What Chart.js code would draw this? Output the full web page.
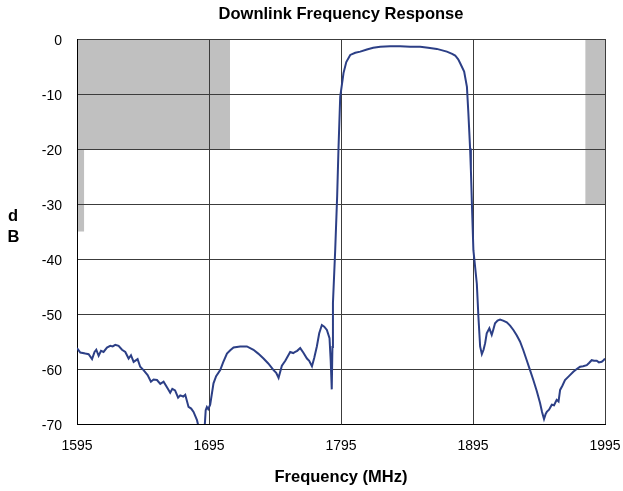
<!DOCTYPE html>
<html><head><meta charset="utf-8">
<script src="https://cdn.jsdelivr.net/npm/chart.js@4.4.1/dist/chart.umd.min.js"></script>
<style>html,body{margin:0;padding:0;background:#fff;} #wrap{width:623px;height:491px;position:relative;}</style>
</head><body><div id="wrap"><canvas id="c"></canvas></div>
<script>
const chartTitle = 'Downlink Frequency Response';
const xAxisTitle = 'Frequency (MHz)';
const yAxisLetters = ['d', 'B'];
const xTicks = [1595, 1695, 1795, 1895, 1995];
const yTicks = [0, -10, -20, -30, -40, -50, -60, -70];

const freqMHz = [
  1595.0,1597.5,1601.3,1603.8,1606.4,1608.3,1609.6,1611.4,1613.2,1615.1,
  1617.7,1620.2,1622.0,1624.0,1626.5,1629.1,1631.6,1634.1,1635.9,1637.9,
  1640.9,1642.9,1645.4,1648.5,1651.0,1653.0,1655.6,1658.1,1660.6,1663.6,
  1665.6,1667.2,1669.3,1671.6,1673.2,1675.5,1677.0,1679.5,1681.5,1683.3,
  1685.9,1687.2,1688.4,1690.6,1691.8,1692.5,1693.4,1694.4,1695.9,1698.4,
  1700.4,1703.5,1705.7,1708.6,1711.1,1713.6,1718.6,1723.7,1728.7,1732.3,
  1736.3,1739.9,1743.9,1745.9,1747.7,1750.2,1752.8,1756.5,1758.8,1760.3,
  1761.8,1764.1,1766.4,1769.2,1770.9,1773.0,1774.7,1776.7,1778.5,1780.5,
  1782.3,1784.3,1786.3,1787.2,1788.0,1788.5,1788.9,1790.6,1792.1,1793.1,
  1794.4,1796.9,1799.0,1802.0,1805.8,1809.6,1814.6,1819.4,1824.7,1832.2,
  1839.8,1847.4,1855.0,1861.0,1867.6,1875.2,1879.2,1881.5,1883.8,1885.3,
  1888.3,1890.4,1891.5,1892.8,1893.4,1894.3,1895.3,1897.9,1899.1,1900.4,
  1901.7,1903.0,1904.2,1905.4,1907.4,1909.2,1910.2,1911.7,1913.6,1915.5,
  1917.8,1920.6,1923.1,1925.6,1928.2,1930.6,1933.0,1935.7,1938.2,1940.7,
  1943.3,1945.8,1947.3,1948.8,1950.0,1950.9,1952.6,1954.7,1956.4,1958.4,
  1959.8,1961.0,1962.8,1964.7,1967.7,1971.0,1973.6,1976.1,1978.4,1981.2,
  1982.9,1984.9,1986.7,1988.7,1990.4,1992.5,1993.9,1995.0
];
const responseDb = [
  -56.2,-57.0,-57.2,-57.3,-58.2,-56.9,-56.5,-57.6,-56.7,-56.9,
  -56.1,-55.8,-55.9,-55.6,-55.8,-56.5,-56.9,-58.1,-57.5,-58.7,
  -58.2,-59.6,-60.2,-61.1,-62.3,-61.9,-62.0,-62.7,-62.3,-63.5,
  -64.3,-63.6,-63.9,-65.2,-64.8,-65.0,-64.7,-66.9,-67.2,-67.8,
  -69.3,-70.6,-72.0,-72.0,-70.2,-67.5,-66.9,-67.3,-66.5,-62.6,
  -61.3,-60.2,-58.8,-57.2,-56.6,-56.1,-55.9,-55.9,-56.5,-57.2,
  -58.1,-59.0,-60.2,-60.7,-61.6,-59.4,-58.5,-56.9,-57.1,-56.9,
  -56.7,-56.2,-57.0,-58.1,-58.5,-59.5,-58.0,-55.9,-53.5,-52.0,
  -52.3,-52.9,-54.4,-58.5,-63.7,-56.0,-48.0,-38.4,-28.5,-19.9,
  -10.5,-6.2,-4.2,-2.9,-2.5,-2.3,-1.9,-1.6,-1.4,-1.3,
  -1.3,-1.4,-1.4,-1.6,-1.8,-2.3,-2.7,-3.0,-3.7,-4.4,
  -5.9,-8.7,-13.5,-19.9,-23.8,-31.0,-38.4,-44.5,-50.5,-55.9,
  -57.3,-56.5,-55.3,-53.5,-52.6,-53.8,-53.0,-51.7,-51.2,-51.0,
  -51.2,-51.5,-52.1,-52.9,-53.9,-55.0,-56.5,-58.4,-60.2,-62.0,
  -64.0,-66.2,-67.8,-69.1,-68.2,-67.8,-67.4,-66.5,-66.6,-65.6,
  -65.9,-63.8,-63.0,-62.0,-61.3,-60.5,-60.0,-59.6,-59.5,-59.3,
  -58.9,-58.4,-58.5,-58.5,-58.8,-58.7,-58.4,-58.1
];

// Grey mask regions (frequency span and dB span)
const maskStartMHz = [1595, 1595, 1980];
const maskEndMHz = [1711, 1600.5, 1995];
const maskTopDb = [0, -20, 0];
const maskBottomDb = [-20, -35, -30];

const LINE_COLOR = '#2c3f86';
const MASK_COLOR = '#c0c0c0';
const GRID_COLOR = '#3c3c3c';
const TICK_FONT = {family: "'Liberation Sans', Arial, sans-serif", size: 14};
const BOLD_FONT = {family: "'Liberation Sans', Arial, sans-serif", size: 16.5, weight: 'bold'};

const maskDatasets = maskStartMHz.map((s, i) => ({
  data: [{x: s, y: maskTopDb[i]}, {x: maskEndMHz[i], y: maskTopDb[i]}],
  borderWidth: 0,
  pointRadius: 0,
  backgroundColor: MASK_COLOR,
  fill: {value: maskBottomDb[i]},
  clip: 0
}));

const responseData = freqMHz.map((f, i) => ({x: f, y: responseDb[i]}));

const yLetterPlugin = {
  id: 'yLetters',
  afterDraw(chart) {
    const ctx = chart.ctx;
    const mid = (chart.chartArea.top + chart.chartArea.bottom) / 2;
    ctx.save();
    ctx.font = "bold 16.5px 'Liberation Sans', Arial, sans-serif";
    ctx.fillStyle = '#000';
    ctx.textAlign = 'center';
    ctx.textBaseline = 'middle';
    ctx.fillText(yAxisLetters[0], 13, mid - 15);
    ctx.fillText(yAxisLetters[1], 13.5, mid + 6);
    ctx.restore();
  }
};

new Chart(document.getElementById('c'), {
  type: 'line',
  data: {
    datasets: [
      ...maskDatasets,
      {
        data: responseData,
        borderColor: LINE_COLOR,
        borderWidth: 2,
        pointRadius: 0,
        tension: 0,
        fill: false,
        clip: 0
      }
    ]
  },
  options: {
    responsive: true,
    maintainAspectRatio: false,
    animation: false,
    events: [],
    layout: {padding: {left: 0, right: 18, top: 0, bottom: 0}},
    plugins: {
      legend: {display: false},
      tooltip: {enabled: false},
      filler: {drawTime: 'beforeDraw'},
      title: {
        display: true,
        text: chartTitle,
        fullSize: false,
        color: '#000',
        font: BOLD_FONT,
        padding: {top: 5, bottom: 14.2}
      }
    },
    scales: {
      x: {
        type: 'linear',
        min: 1595, max: 1995,
        afterBuildTicks: s => { s.ticks = xTicks.map(v => ({value: v})); },
        afterFit: s => { s.height = 67; s.paddingLeft = 0; s.paddingRight = 0; },
        grid: {color: GRID_COLOR, lineWidth: 1, drawTicks: false},
        border: {color: '#000', width: 1},
        ticks: {color: '#000', font: TICK_FONT, padding: 14, maxRotation: 0, autoSkip: false,
                callback: v => String(v)},
        title: {display: true, text: xAxisTitle, color: '#000', font: BOLD_FONT, padding: {top: 0, bottom: 3.6}}
      },
      y: {
        type: 'linear',
        min: -70, max: 0,
        afterBuildTicks: s => { s.ticks = yTicks.map(v => ({value: v})); },
        afterFit: s => { s.width = 77; s.paddingTop = 0; s.paddingBottom = 0; },
        grid: {color: GRID_COLOR, lineWidth: 1, drawTicks: false},
        border: {color: '#000', width: 1},
        ticks: {color: '#000', font: TICK_FONT, padding: 15, labelOffset: 2, autoSkip: false,
                callback: v => String(v)}
      }
    }
  },
  plugins: [yLetterPlugin]
});
</script>
</body></html>
